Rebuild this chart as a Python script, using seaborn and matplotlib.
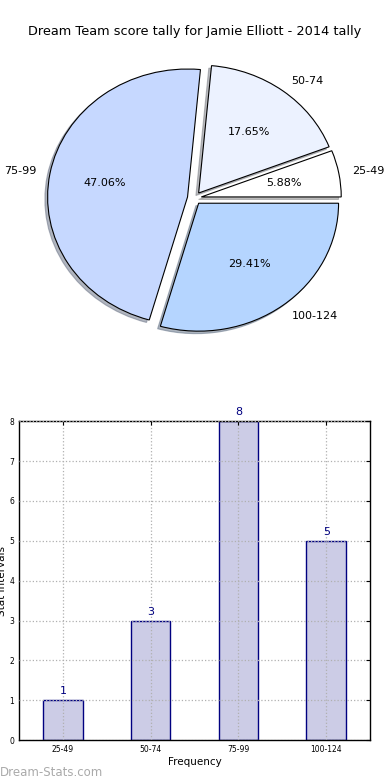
import matplotlib
matplotlib.use('Agg')
import matplotlib.pyplot as plt
import seaborn as sns

# Score tally data
categories = ['25-49', '50-74', '75-99', '100-124']
counts = [1, 3, 8, 5]
pie_colors = ['#ffffff', '#ecf2ff', '#c6d8ff', '#b5d5ff']

sns.set_style('white')
plt.rcParams['font.family'] = ['DejaVu Sans']
plt.rcParams['text.color'] = 'black'
plt.rcParams['axes.labelcolor'] = 'black'
plt.rcParams['xtick.color'] = 'black'
plt.rcParams['ytick.color'] = 'black'

fig = plt.figure(figsize=(3.9, 7.8), dpi=100)

# Pie chart on top
ax1 = fig.add_axes([0.05, 0.541, 0.897, 0.410])
ax1.pie(counts, labels=categories, colors=pie_colors, autopct='%1.2f%%',
        explode=[0.05] * 4, startangle=0,
        shadow={'ox': -0.014, 'oy': -0.014, 'shade': 0.5},
        wedgeprops={'edgecolor': 'black', 'linewidth': 0.8},
        textprops={'fontsize': 8})
ax1.set_xlim(-1.25, 1.25)
ax1.set_ylim(-1.25, 1.25)
ax1.set_aspect('auto')
ax1.set_title('Dream Team score tally for Jamie Elliott - 2014 tally', fontsize=9.3, pad=2)

# Bar chart below
ax2 = fig.add_axes([0.049, 0.051, 0.9, 0.409])
sns.barplot(x=categories, y=counts, color='#cccce6', saturation=1, width=0.45,
            edgecolor='navy', linewidth=1, ax=ax2)
for i, v in enumerate(counts):
    ax2.text(i, v + 0.1, str(v), ha='center', va='bottom', color='navy', fontsize=8)
ax2.set_xlim(-0.5, 3.5)
ax2.set_ylim(0, 8)
ax2.set_axisbelow(False)
ax2.grid(True, linestyle=':', color='#b0b0b0', linewidth=0.9)
ax2.tick_params(direction='in', top=True, right=True, labelsize=5.5, length=3)
for s in ax2.spines.values():
    s.set_color('black')
    s.set_linewidth(1)
ax2.set_xlabel('Frequency', fontsize=7.5, labelpad=2)
ax2.set_ylabel('Stat Intervals', fontsize=7.5, labelpad=2)

fig.text(0.0, 0.005, 'Dream-Stats.com', color='#aaaaaa', fontsize=8.5)

fig.savefig('out.png', dpi=100)
